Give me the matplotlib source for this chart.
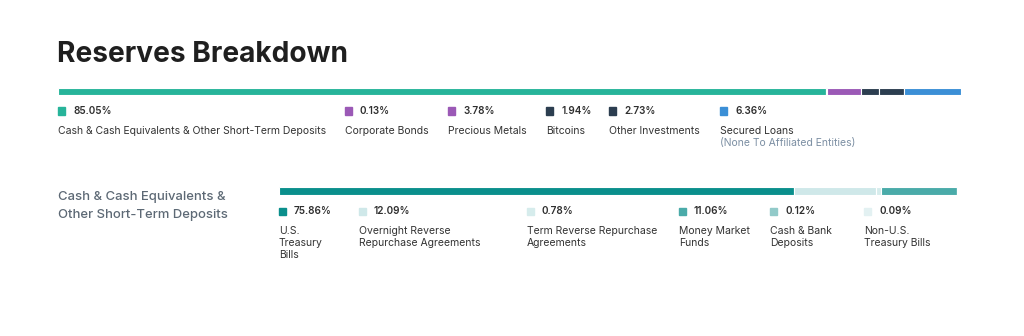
import matplotlib.pyplot as plt
from matplotlib.patches import Rectangle

plt.rcParams['font.family'] = ['Inter', 'DejaVu Sans']

W, H = 1024, 336

# Top breakdown
top_labels = ['Cash & Cash Equivalents & Other Short-Term Deposits', 'Corporate Bonds',
              'Precious Metals', 'Bitcoins', 'Other Investments', 'Secured Loans']
top_values = [85.05, 0.13, 3.78, 1.94, 2.73, 6.36]
top_colors = ['#27b49a', '#9b59b6', '#9b59b6', '#2c3e50', '#2c3e50', '#3b8fd6']
top_note = '(None To Affiliated Entities)'

# Cash breakdown
cash_title = 'Cash & Cash Equivalents &\nOther Short-Term Deposits'
cash_labels = ['U.S.\nTreasury\nBills', 'Overnight Reverse\nRepurchase Agreements',
               'Term Reverse Repurchase\nAgreements', 'Money Market\nFunds',
               'Cash & Bank\nDeposits', 'Non-U.S.\nTreasury Bills']
cash_values = [75.86, 12.09, 0.78, 11.06, 0.12, 0.09]
cash_colors = ['#0a8f8c', '#cfe8e9', '#d6ecec', '#4aaba9', '#92cac9', '#e3f1f2']


def fx(px):
    return px / W


def fy(py):
    return 1 - py / H


def stacked_bar(fig, x0, x1, y0, y1, values, colors):
    ax = fig.add_axes([fx(x0), fy(y1), fx(x1 - x0), (y1 - y0) / H])
    left = 0
    for v, c in zip(values, colors):
        ax.barh(0, v, left=left, height=1, color=c, edgecolor='white', linewidth=0.8)
        left += v
    ax.set_xlim(0, sum(values))
    ax.set_ylim(-0.5, 0.5)
    ax.axis('off')


def legend_item(fig, sx, tx, y, value, label, color, label_y, step):
    fig.add_artist(Rectangle((fx(sx), fy(y + 3.5)), fx(7), 7 / H, color=color,
                             transform=fig.transFigure))
    fig.text(fx(tx), fy(y), f'{value:.2f}%', fontsize=7.2, fontweight='semibold',
             color='#2f2f2f', va='center', ha='left')
    for i, line in enumerate(label.split('\n')):
        fig.text(fx(sx), fy(label_y + i * step), line, fontsize=7.5, color='#333333',
                 va='center', ha='left')


fig = plt.figure(figsize=(W / 100, H / 100), dpi=100)
fig.patch.set_facecolor('white')

fig.text(fx(57), fy(55), 'Reserves Breakdown', fontsize=20.2, fontweight='bold',
         color='#1f1f1f', va='center', ha='left')

stacked_bar(fig, 58, 961, 88, 95, top_values, top_colors)
top_x = [58, 345, 448, 546, 609, 720]
for sx, v, lab, c in zip(top_x, top_values, top_labels, top_colors):
    legend_item(fig, sx, sx + 15, 111, v, lab, c, 131, 12.5)
fig.text(fx(720), fy(143), top_note, fontsize=7.5, color='#7c8fa3', va='center', ha='left')

for i, line in enumerate(cash_title.split('\n')):
    fig.text(fx(58), fy(197 + i * 18), line, fontsize=9.4, fontweight='medium',
             color='#5d6975', va='center', ha='left')

stacked_bar(fig, 279, 958, 187, 195, cash_values, cash_colors)
cash_x = [279, 359, 527, 679, 770, 864]
for sx, v, lab, c in zip(cash_x, cash_values, cash_labels, cash_colors):
    legend_item(fig, sx, sx + 15, 211, v, lab, c, 231, 12)

fig.savefig('out.png', dpi=100, facecolor='white')
